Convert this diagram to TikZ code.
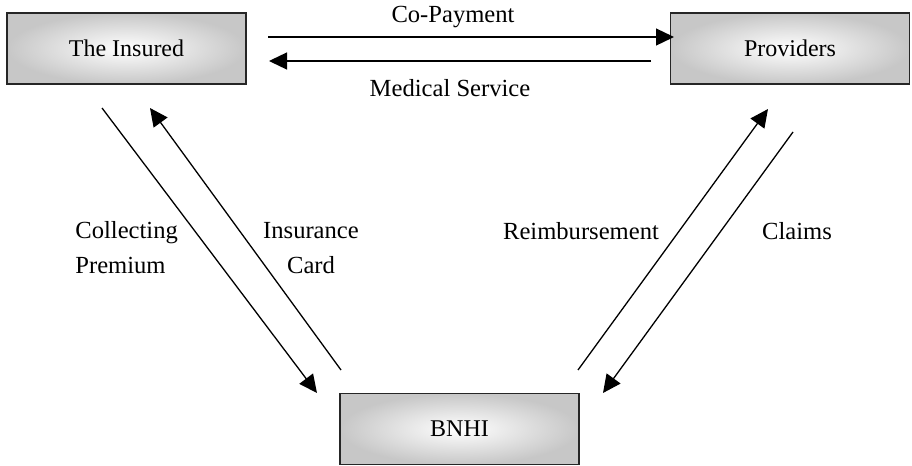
\documentclass[tikz,border=0pt]{standalone}
\usepackage{fontspec}
\setmainfont{Liberation Serif}
\usetikzlibrary{arrows.meta}
\begin{document}
\begin{tikzpicture}[x=0.5pt,y=-0.5pt,
  box/.style={draw=black!85,line width=0.9pt,inner color=white,outer color=black!22,shading=radial,minimum width=119.5pt,minimum height=35.5pt,inner sep=0pt,font=\fontsize{12}{15}\selectfont},
  lbl/.style={font=\fontsize{12.3}{17.5}\selectfont,inner sep=0pt},
  conn/.style={line width=0.65pt,-{Triangle[length=9pt,width=8.5pt]}}]
\useasboundingbox (0,0) rectangle (912,466);
\node[box] (ins) at (126.5,48.5) {The Insured};
\node[box] (prov) at (790,48.5) {Providers};
\node[box] (bnhi) at (459.5,429) {BNHI};
% endpoints
\coordinate (cp1) at (268,37);
\coordinate (cp2) at (674,37);
\coordinate (ms1) at (651,61);
\coordinate (ms2) at (269,61);
\coordinate (pr1) at (102,108);
\coordinate (pr2) at (317,393);
\coordinate (ic1) at (341,370);
\coordinate (ic2) at (150,108);
\coordinate (rb1) at (578,370);
\coordinate (rb2) at (768,109);
\coordinate (cl1) at (793,132);
\coordinate (cl2) at (603,393);
\draw[conn] (cp1) -- (cp2);
\draw[conn] (ms1) -- (ms2);
\draw[conn] (pr1) -- (pr2);
\draw[conn] (ic1) -- (ic2);
\draw[conn] (rb1) -- (rb2);
\draw[conn] (cl1) -- (cl2);
\node[lbl] (lcp) at (453,17) {Co-Payment};
\node[lbl] (lms) at (450,88) {Medical Service};
\node[lbl,align=left,anchor=west] (lpr) at (75,248) {Collecting\\Premium};
\node[lbl,align=center] (lic) at (311,248) {Insurance\\Card};
\node[lbl] (lrb) at (581,231) {Reimbursement};
\node[lbl] (lcl) at (797,231) {Claims};
\end{tikzpicture}
\end{document}
